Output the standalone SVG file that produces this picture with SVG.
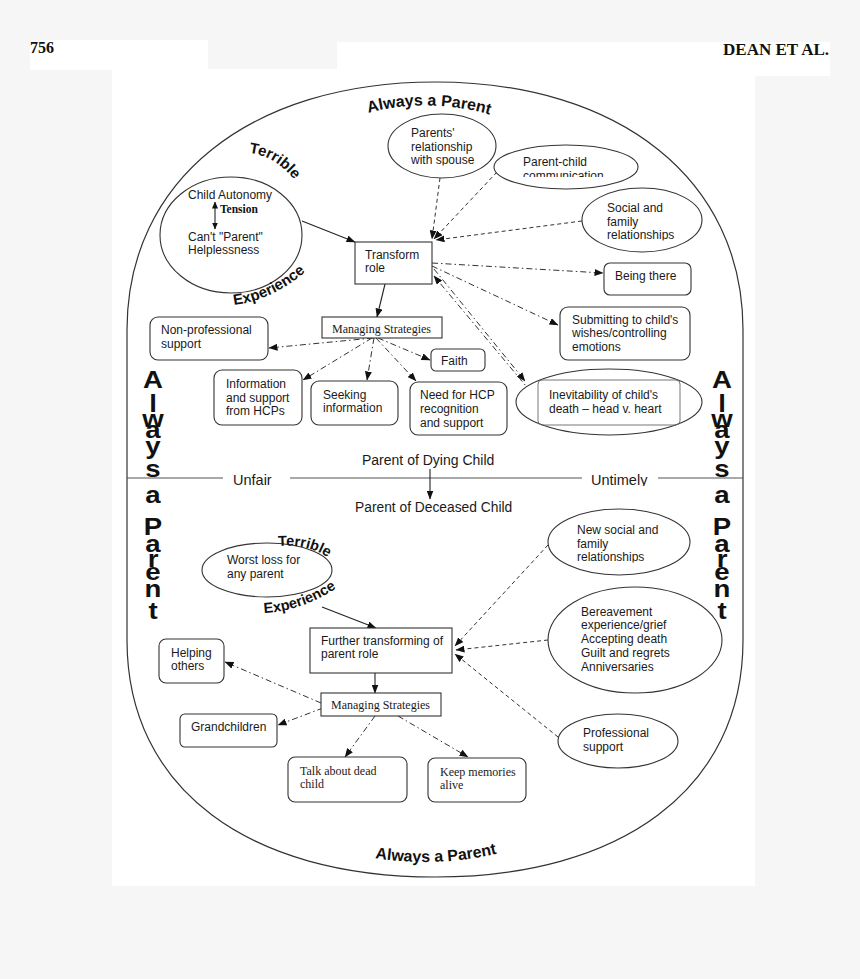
<svg xmlns="http://www.w3.org/2000/svg" width="860" height="979" viewBox="0 0 860 979">
<style>
.n{fill:#fff;stroke:#333;stroke-width:1.1}
.t{font-family:"Liberation Sans",Arial,sans-serif;font-size:12px;fill:#1a1a1a}
.s{font-family:"Liberation Serif","Times New Roman",serif;font-size:12px;fill:#1a1a1a}
.b{font-family:"Liberation Sans",Arial,sans-serif;font-weight:bold;fill:#111}
.big{font-family:"Liberation Sans",Arial,sans-serif;font-weight:bold;font-size:23px;fill:#111;text-anchor:middle}
.solid{fill:none;stroke:#222;stroke-width:1.1}
.dash{fill:none;stroke:#333;stroke-width:1;stroke-dasharray:4 3}
.dd{fill:none;stroke:#333;stroke-width:1;stroke-dasharray:6 3 1.5 3}
</style>
<defs>
<marker id="ah" markerWidth="9" markerHeight="7" refX="8.5" refY="3.5" orient="auto-start-reverse" markerUnits="userSpaceOnUse">
<path d="M0,0 L9,3.5 L0,7 z" fill="#111"/>
</marker>
<marker id="ahs" markerWidth="7" markerHeight="6" refX="6.5" refY="3" orient="auto-start-reverse" markerUnits="userSpaceOnUse">
<path d="M0,0 L7,3 L0,6 z" fill="#111"/>
</marker>
<path id="pTopAP" d="M360,115 Q428,95 498,117"/>
<path id="pBotAP" d="M368,857 Q436,869 504,852"/>
<path id="pTer1" d="M249,153 Q285,157 306,199"/>
<path id="pExp1" d="M234,305 Q275,300 312,266"/>
<path id="pTer2" d="M278,546 Q316,543 340,567"/>
<path id="pExp2" d="M264,613 Q305,611 344,583"/>
<clipPath id="cComm"><rect x="490" y="150" width="150" height="27"/></clipPath>
<clipPath id="cSpouse"><rect x="400" y="150" width="100" height="15.5"/></clipPath>
<clipPath id="cRel1"><rect x="590" y="228" width="100" height="12.5"/></clipPath>
<clipPath id="cRel2"><rect x="560" y="550" width="100" height="12.5"/></clipPath>
<clipPath id="cUnt"><rect x="585" y="470" width="70" height="16"/></clipPath>
</defs>

<rect x="0" y="0" width="860" height="979" fill="#f6f6f6"/>
<rect x="30" y="40" width="178" height="30" fill="#fff"/>
<rect x="337" y="42" width="493" height="34" fill="#fff"/>
<rect x="112" y="69" width="643" height="817" fill="#fff"/>
<text x="30" y="53" font-family="Liberation Serif,Times New Roman,serif" font-weight="bold" font-size="16" fill="#111">756</text>
<text x="829" y="55" text-anchor="end" font-family="Liberation Serif,Times New Roman,serif" font-weight="bold" font-size="17" fill="#111">DEAN ET AL.</text>

<g id="frame">
<path d="M127,330 C127,180 250,82 435,82 C620,82 743,180 743,330 L743,640 C743,790 620,877 435,877 C250,877 127,790 127,640 Z" fill="none" stroke="#333" stroke-width="1.2"/>
<path d="M127,478 H223 M290,478 H582 M658,478 H743" fill="none" stroke="#555" stroke-width="1.1"/>
<text class="b" font-size="16"><textPath href="#pTopAP" startOffset="50%" text-anchor="middle">Always a Parent</textPath></text>
<text class="b" font-size="16"><textPath href="#pBotAP" startOffset="50%" text-anchor="middle">Always a Parent</textPath></text>
<g transform="translate(153,0) scale(1.2,1)">
<text class="big"><tspan x="0" y="388">A</tspan><tspan x="0" y="412">l</tspan><tspan x="0" y="427">w</tspan><tspan x="0" y="438">a</tspan><tspan x="0" y="454">y</tspan><tspan x="0" y="477">s</tspan><tspan x="0" y="503">a</tspan><tspan x="0" y="535">P</tspan><tspan x="0" y="552">a</tspan><tspan x="0" y="567">r</tspan><tspan x="0" y="580">e</tspan><tspan x="0" y="597">n</tspan><tspan x="0" y="619">t</tspan></text>
</g>
<g transform="translate(722,0) scale(1.2,1)">
<text class="big"><tspan x="0" y="388">A</tspan><tspan x="0" y="412">l</tspan><tspan x="0" y="427">w</tspan><tspan x="0" y="438">a</tspan><tspan x="0" y="454">y</tspan><tspan x="0" y="477">s</tspan><tspan x="0" y="503">a</tspan><tspan x="0" y="535">P</tspan><tspan x="0" y="552">a</tspan><tspan x="0" y="567">r</tspan><tspan x="0" y="580">e</tspan><tspan x="0" y="597">n</tspan><tspan x="0" y="619">t</tspan></text>
</g>
<text x="233" y="485" font-family="Liberation Sans,Arial,sans-serif" font-size="14.5" fill="#1a1a1a">Unfair</text>
<text x="591" y="485" font-family="Liberation Sans,Arial,sans-serif" font-size="14.5" fill="#1a1a1a" clip-path="url(#cUnt)">Untimely</text>
<text x="362" y="465" font-family="Liberation Sans,Arial,sans-serif" font-size="14" fill="#1a1a1a">Parent of Dying Child</text>
<text x="355" y="512" font-family="Liberation Sans,Arial,sans-serif" font-size="13.8" fill="#1a1a1a">Parent of Deceased Child</text>
</g>

<g id="connectors">
<path class="solid" d="M302,221 L355,242" marker-end="url(#ah)"/>
<path class="solid" d="M385,284 L377,317" marker-end="url(#ah)"/>
<path class="dash" d="M440,178 L432,239" marker-end="url(#ah)"/>
<path class="dash" d="M497,172 L434,239" marker-end="url(#ah)"/>
<path class="dash" d="M582,221 L436,240" marker-end="url(#ah)"/>
<path class="dd" d="M432,263 L603,273" marker-end="url(#ah)"/>
<path class="dd" d="M432,266 L558,325" marker-end="url(#ah)"/>
<path class="dd" d="M434,269 L525,381" marker-end="url(#ah)"/>
<path class="dd" d="M531,392 L434,276" marker-end="url(#ah)"/>
<path class="dd" d="M373,338 L269,348" marker-end="url(#ah)"/>
<path class="dd" d="M372,338 L303,380" marker-end="url(#ah)"/>
<path class="dd" d="M374,338 L367,380" marker-end="url(#ah)"/>
<path class="dd" d="M376,338 L416,381" marker-end="url(#ah)"/>
<path class="dd" d="M378,338 L430,360" marker-end="url(#ah)"/>
<path class="solid" d="M430,469 L430,499" marker-end="url(#ah)"/>
<path class="solid" d="M322,607 L376,628" marker-end="url(#ah)"/>
<path class="solid" d="M375,673 L375,693" marker-end="url(#ah)"/>
<path class="dash" d="M548,545 L455,646" marker-end="url(#ah)"/>
<path class="dash" d="M548,640 L456,650" marker-end="url(#ah)"/>
<path class="dash" d="M558,737 L455,654" marker-end="url(#ah)"/>
<path class="dd" d="M321,703 L225,662" marker-end="url(#ah)"/>
<path class="dd" d="M323,708 L278,725" marker-end="url(#ah)"/>
<path class="dd" d="M375,716 L345,757" marker-end="url(#ah)"/>
<path class="dd" d="M398,716 L468,757" marker-end="url(#ah)"/>
</g>

<g id="tension">
<ellipse class="n" cx="231" cy="235" rx="71" ry="58"/>
<text class="t" x="188" y="199">Child Autonomy</text>
<path class="solid" d="M215,202 L215,229" marker-start="url(#ahs)" marker-end="url(#ahs)"/>
<text x="220" y="213" font-family="Liberation Serif,Times New Roman,serif" font-weight="bold" font-size="11.5" fill="#111">Tension</text>
<text class="t" x="188" y="241">Can't "Parent"</text>
<text class="t" x="188" y="254">Helplessness</text>
<text class="b" font-size="15"><textPath href="#pTer1">Terrible</textPath></text>
<text class="b" font-size="15"><textPath href="#pExp1">Experience</textPath></text>
</g>
<g id="spouse">
<ellipse class="n" cx="442" cy="146" rx="54" ry="32"/>
<text class="t" x="411" y="137">Parents'</text>
<text class="t" x="411" y="151">relationship</text>
<text class="t" x="411" y="164" clip-path="url(#cSpouse)">with spouse</text>
</g>
<g id="communication">
<ellipse class="n" cx="566" cy="167" rx="72" ry="22"/>
<text class="t" x="523" y="166">Parent-child</text>
<text class="t" x="523" y="180" clip-path="url(#cComm)">communication</text>
</g>
<g id="social">
<ellipse class="n" cx="642" cy="220" rx="60" ry="32"/>
<text class="t" x="607" y="212">Social and</text>
<text class="t" x="607" y="226">family</text>
<text class="t" x="607" y="239" clip-path="url(#cRel1)">relationships</text>
</g>
<g id="transform">
<rect class="n" x="355" y="242" width="77" height="42"/>
<text class="t" x="365" y="259">Transform</text>
<text class="t" x="365" y="272">role</text>
</g>
<g id="being">
<rect class="n" x="604" y="263" width="87" height="32" rx="6"/>
<text class="t" x="615" y="280">Being there</text>
</g>
<g id="submitting">
<rect class="n" x="560" y="307" width="130" height="53" rx="8"/>
<text class="t" x="572" y="324">Submitting to child's</text>
<text class="t" x="572" y="337">wishes/controlling</text>
<text class="t" x="572" y="351">emotions</text>
</g>
<g id="managing1">
<rect class="n" x="322" y="317" width="120" height="21"/>
<text class="s" x="332" y="333">Managing Strategies</text>
</g>
<g id="nonprof">
<rect class="n" x="150" y="317" width="118" height="43" rx="8"/>
<text class="t" x="161" y="334">Non-professional</text>
<text class="t" x="161" y="348">support</text>
</g>
<g id="faith">
<rect class="n" x="431" y="349" width="54" height="22" rx="5"/>
<text class="t" x="441" y="365">Faith</text>
</g>
<g id="info">
<rect class="n" x="214" y="370" width="88" height="55" rx="8"/>
<text class="t" x="226" y="388">Information</text>
<text class="t" x="226" y="402">and support</text>
<text class="t" x="226" y="415">from HCPs</text>
</g>
<g id="seeking">
<rect class="n" x="311" y="381" width="87" height="44" rx="8"/>
<text class="t" x="323" y="399">Seeking</text>
<text class="t" x="323" y="412">information</text>
</g>
<g id="need">
<rect class="n" x="410" y="382" width="97" height="53" rx="8"/>
<text class="t" x="420" y="399">Need for HCP</text>
<text class="t" x="420" y="413">recognition</text>
<text class="t" x="420" y="427">and support</text>
</g>
<g id="inevitability">
<ellipse class="n" cx="609" cy="402" rx="93" ry="33"/>
<rect x="538" y="380" width="142" height="45" rx="4" fill="none" stroke="#666" stroke-width="0.9"/>
<text class="t" x="549" y="399">Inevitability of child's</text>
<text class="t" x="549" y="413">death – head v. heart</text>
</g>

<g id="worst">
<ellipse class="n" cx="267" cy="570" rx="65" ry="27"/>
<text class="t" x="227" y="564">Worst loss for</text>
<text class="t" x="227" y="578">any parent</text>
<text class="b" font-size="14.5"><textPath href="#pTer2">Terrible</textPath></text>
<text class="b" font-size="14.5"><textPath href="#pExp2">Experience</textPath></text>
</g>
<g id="further">
<rect class="n" x="310" y="628" width="142" height="45"/>
<text class="t" x="321" y="645">Further transforming of</text>
<text class="t" x="321" y="658">parent role</text>
</g>
<g id="managing2">
<rect class="n" x="321" y="693" width="120" height="23"/>
<text class="s" x="331" y="709">Managing Strategies</text>
</g>
<g id="helping">
<rect class="n" x="159" y="639" width="65" height="44" rx="7"/>
<text class="t" x="171" y="657">Helping</text>
<text class="t" x="171" y="670">others</text>
</g>
<g id="grandchildren">
<rect class="n" x="180" y="714" width="97" height="33" rx="5"/>
<text class="t" x="191" y="731">Grandchildren</text>
</g>
<g id="talk">
<rect class="n" x="288" y="757" width="119" height="45" rx="7"/>
<text class="s" x="300" y="775">Talk about dead</text>
<text class="s" x="300" y="788">child</text>
</g>
<g id="keep">
<rect class="n" x="428" y="758" width="98" height="44" rx="7"/>
<text class="s" x="440" y="776">Keep memories</text>
<text class="s" x="440" y="789">alive</text>
</g>
<g id="newsocial">
<ellipse class="n" cx="619" cy="542" rx="71" ry="33"/>
<text class="t" x="577" y="534">New social and</text>
<text class="t" x="577" y="548">family</text>
<text class="t" x="577" y="561" clip-path="url(#cRel2)">relationships</text>
</g>
<g id="bereavement">
<ellipse class="n" cx="635" cy="640" rx="87" ry="53"/>
<text class="t" x="581" y="616">Bereavement</text>
<text class="t" x="581" y="629">experience/grief</text>
<text class="t" x="581" y="643">Accepting death</text>
<text class="t" x="581" y="657">Guilt and regrets</text>
<text class="t" x="581" y="671">Anniversaries</text>
</g>
<g id="professional">
<ellipse class="n" cx="618" cy="741" rx="60" ry="27"/>
<text class="t" x="583" y="737">Professional</text>
<text class="t" x="583" y="751">support</text>
</g>
</svg>
